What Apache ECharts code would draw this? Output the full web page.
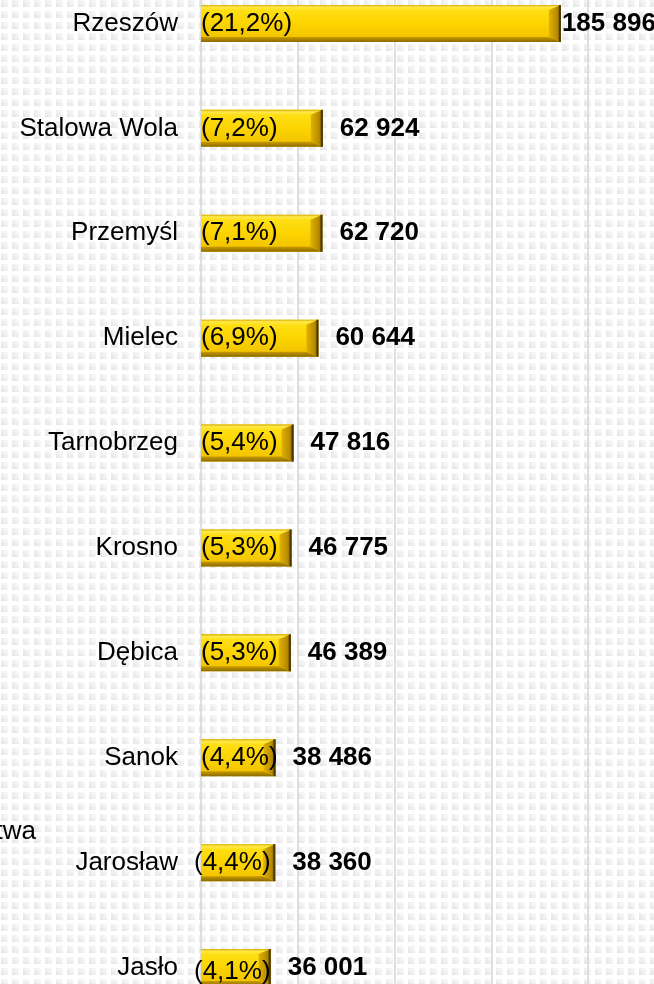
<!DOCTYPE html>
<html>
<head>
<meta charset="utf-8">
<script src="https://cdn.jsdelivr.net/npm/echarts@6/dist/echarts.min.js"></script>
<style>
  html, body { margin: 0; padding: 0; background: #fff; }
  #myChart { width: 654px; height: 984px; }
</style>
</head>
<body>
<div id="myChart"></div>
<script>
// miasta (od góry)
const cities = ['Rzeszów', 'Stalowa Wola', 'Przemyśl', 'Mielec', 'Tarnobrzeg', 'Krosno', 'Dębica', 'Sanok', 'Jarosław', 'Jasło']
// liczba ludności
const population = [185896, 62924, 62720, 60644, 47816, 46775, 46389, 38486, 38360, 36001]
// udział w %
const shares = ['21,2', '7,2', '7,1', '6,9', '5,4', '5,3', '5,3', '4,4', '4,4', '4,1']

const BAR_H = 37

// tło w kropki
function dotBackground() {
  let c = document.createElement('canvas')
  c.width = 11
  c.height = 11
  let ctx = c.getContext('2d')
  let g = ctx.createLinearGradient(1, 7, 8, 0)
  g.addColorStop(0, '#e4e4e4')
  g.addColorStop(1, '#fcfcfc')
  ctx.fillStyle = g
  ctx.fillRect(1, 0, 7, 7)
  return c.toDataURL()
}
document.getElementById('myChart').style.background = 'url(' + dotBackground() + ') 0 0 repeat'

function fmt(v) {
  return String(v).replace(/\B(?=(\d{3})+(?!\d))/g, ' ')
}

function vgrad(stops) {
  return {type: 'linear', x: 0, y: 0, x2: 0, y2: 1, colorStops: stops}
}

// słupek ze ściętymi krawędziami (jak w Excelu)
function renderBevelBar(params, api) {
  let end = api.coord([api.value(0), api.value(1)])
  let start = api.coord([0, api.value(1)])
  let x0 = start[0], x1 = end[0]
  let y0 = end[1] - BAR_H / 2, y1 = end[1] + BAR_H / 2
  let bx = 12, by = 5
  return {
    type: 'group',
    children: [
      {
        type: 'rect',
        shape: {x: x0, y: y0, width: x1 - x0, height: BAR_H},
        style: {fill: vgrad([
          {offset: 0, color: '#ffe21c'},
          {offset: 0.5, color: '#fcd400'},
          {offset: 1, color: '#efbf00'}
        ])}
      },
      {
        type: 'polygon',
        shape: {points: [[x0, y0], [x1, y0], [x1 - bx, y0 + by], [x0, y0 + by]]},
        style: {fill: vgrad([
          {offset: 0, color: '#d6aa00'},
          {offset: 0.4, color: '#ffe84a'},
          {offset: 1, color: '#ffe21c'}
        ])}
      },
      {
        type: 'polygon',
        shape: {points: [[x0, y1], [x1, y1], [x1 - bx, y1 - by], [x0, y1 - by]]},
        style: {fill: vgrad([
          {offset: 0, color: '#c99c00'},
          {offset: 1, color: '#8a6a00'}
        ])}
      },
      {
        type: 'polygon',
        shape: {points: [[x1, y0], [x1, y1], [x1 - bx, y1 - by], [x1 - bx, y0 + by]]},
        style: {fill: {
          type: 'linear', x: 0, y: 0, x2: 1, y2: 0,
          colorStops: [
            {offset: 0, color: '#e0b200'},
            {offset: 0.7, color: '#b68a00'},
            {offset: 1, color: '#6a5000'}
          ]
        }}
      },
      {
        type: 'line',
        shape: {x1: x1 - 1, y1: y0, x2: x1 - 1, y2: y1},
        style: {stroke: '#4e3b00', lineWidth: 2}
      }
    ]
  }
}

let option = {
  animation: false,
  grid: {
    left: 201,
    top: -29,
    width: 484,
    height: 1049,
    outerBoundsMode: 'none',
    containLabel: false
  },
  xAxis: {
    type: 'value',
    min: 0,
    max: 250000,
    interval: 50000,
    axisLabel: {show: false},
    axisLine: {show: false},
    axisTick: {show: false},
    splitLine: {
      lineStyle: {color: '#d6d6d6', width: 1.5}
    }
  },
  yAxis: {
    type: 'category',
    inverse: true,
    data: cities,
    axisLine: {show: false},
    axisTick: {show: false},
    axisLabel: {
      margin: 23,
      color: '#000',
      fontFamily: 'Liberation Sans',
      fontSize: 26
    }
  },
  series: [
    {
      // rysunek słupków
      type: 'custom',
      renderItem: renderBevelBar,
      encode: {x: 0, y: 1},
      data: population.map((v, i) => [v, i]),
      silent: true,
      z: 1
    },
    {
      // wartości na końcu słupka
      type: 'bar',
      barWidth: BAR_H,
      data: population.map((v, i) => i === 0 ? {value: v, label: {distance: 1}} : v),
      itemStyle: {color: 'transparent'},
      label: {
        show: true,
        position: 'right',
        distance: 17,
        formatter: p => fmt(p.value),
        color: '#000',
        fontFamily: 'Liberation Sans',
        fontWeight: 'bold',
        fontSize: 26
      },
      silent: true,
      z: 2
    },
    {
      // udział procentowy wewnątrz słupka
      type: 'bar',
      barWidth: BAR_H,
      barGap: '-100%',
      data: population.map((v, i) => {
        if (i === 8) return {value: v, label: {offset: [-7, 0]}}
        if (i === 9) return {value: v, label: {offset: [-7, 4]}}
        return v
      }),
      itemStyle: {color: 'transparent'},
      label: {
        show: true,
        position: 'insideLeft',
        distance: 0,
        formatter: p => '(' + shares[p.dataIndex] + '%)',
        color: '#000',
        fontFamily: 'Liberation Sans',
        fontSize: 26
      },
      silent: true,
      z: 3
    }
  ],
  graphic: [
    {
      type: 'text',
      x: 36,
      y: 832,
      style: {
        text: 'województwa',
        align: 'right',
        verticalAlign: 'middle',
        fill: '#000',
        font: '26px "Liberation Sans"'
      }
    }
  ]
}

let myChart = echarts.init(document.getElementById('myChart'))
myChart.setOption(option)
</script>
</body>
</html>
